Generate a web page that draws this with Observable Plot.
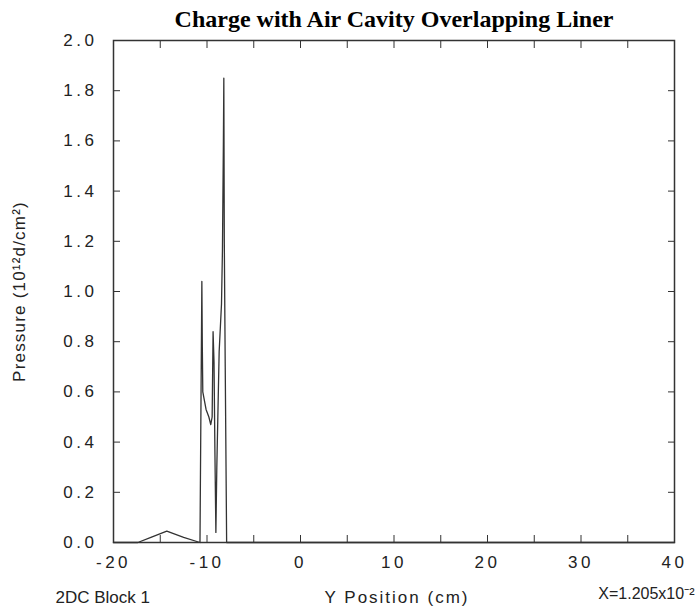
<!DOCTYPE html>
<html><head><meta charset="utf-8">
<script src="https://cdn.jsdelivr.net/npm/d3@7"></script>
<script src="https://cdn.jsdelivr.net/npm/@observablehq/plot@0.6"></script>
<style>
body{margin:0;background:#fff;}
#chart svg{font-family:"Liberation Sans",Arial,sans-serif;}
g[aria-label="y-axis tick label"] text, g[aria-label="x-axis tick label"] text {letter-spacing:3.5px;}
g.lbl text {letter-spacing:1.2px;}
g.xlbl text {letter-spacing:2px;}
</style></head><body><div id="chart"></div>
<script>
const title = "Charge with Air Cavity Overlapping Liner";
const xLabel = "Y Position (cm)";
const yLabel = "Pressure (10¹²d/cm²)";
const noteLeft = "2DC Block 1";
const noteRight = "X=1.205x10⁻²";

const positions = [-20, -17.4, -16, -14.3, -12.5, -10.75, -10.7, -10.55, -10.5, -10.45, -10.1, -9.8, -9.6, -9.45, -9.35, -9.25, -9.15, -9.05, -8.95, -8.7, -8.45, -8.35, -8.25, -8.2, -8.15, -8.05, -7.9, 40];
const pressures = [0, 0, 0.02, 0.045, 0.02, 0, 0.27, 1.04, 0.78, 0.6, 0.53, 0.5, 0.47, 0.5, 0.84, 0.72, 0.35, 0.04, 0.3, 0.76, 0.95, 1.16, 1.58, 1.85, 1.2, 0.7, 0, 0];

const xTickMarks = [-20, -15, -10, -5, 0, 5, 10, 15, 20, 25, 30, 35, 40];
const xTickLabels = [-20, -10, 0, 10, 20, 30, 40];
const yTicks = [0, 0.2, 0.4, 0.6, 0.8, 1.0, 1.2, 1.4, 1.6, 1.8, 2.0];

const data = positions.map((x, i) => ({x, y: pressures[i]}));

const chart = Plot.plot({
  width: 695, height: 613,
  marginLeft: 113, marginRight: 21, marginTop: 40, marginBottom: 71,
  x: {domain: [-20, 40]},
  y: {domain: [0, 2]},
  style: {fontSize: "17px", color: "#222", background: "#fff"},
  marks: [
    Plot.frame({stroke: "#333", strokeWidth: 1.5}),
    Plot.axisX(xTickMarks, {anchor: "bottom", tickSize: 7, dy: -7, tickFormat: () => "", label: null, stroke: "#333"}),
    Plot.axisX(xTickMarks, {anchor: "top", tickSize: 7, dy: 7, tickFormat: () => "", label: null, stroke: "#333"}),
    Plot.axisX(xTickLabels, {anchor: "bottom", tickSize: 0, tickPadding: 13, tickFormat: d => String(d), label: null}),
    Plot.axisY(yTicks, {anchor: "left", tickSize: 7, dx: 7, tickPadding: 16, tickFormat: d => d.toFixed(1), label: null, stroke: "#333"}),
    Plot.axisY(yTicks, {anchor: "right", tickSize: 7, dx: -7, tickFormat: () => "", label: null, stroke: "#333"}),
    Plot.line(data, {x: "x", y: "y", stroke: "#333", strokeWidth: 1.3}),
    Plot.text([title], {text: d => d, frameAnchor: "top", dy: -31, fontSize: 24, fontWeight: "bold", fontFamily: "Liberation Serif", fill: "#000"}),
    Plot.text([xLabel], {text: d => d, frameAnchor: "bottom", dx: 3, dy: 60, fontSize: 17, className: "xlbl"}),
    Plot.text([yLabel], {text: d => d, frameAnchor: "left", textAnchor: "middle", dx: -94, dy: 0, rotate: -90, fontSize: 17, className: "lbl"}),
    Plot.text([noteLeft], {text: d => d, frameAnchor: "bottom-left", textAnchor: "start", dx: -58, dy: 60, fontSize: 17}),
    Plot.text([noteRight], {text: d => d, frameAnchor: "bottom-right", textAnchor: "end", dx: 20, dy: 56, fontSize: 16, letterSpacing: "-0.3px"})
  ]
});
document.getElementById("chart").appendChild(chart);
</script></body></html>
